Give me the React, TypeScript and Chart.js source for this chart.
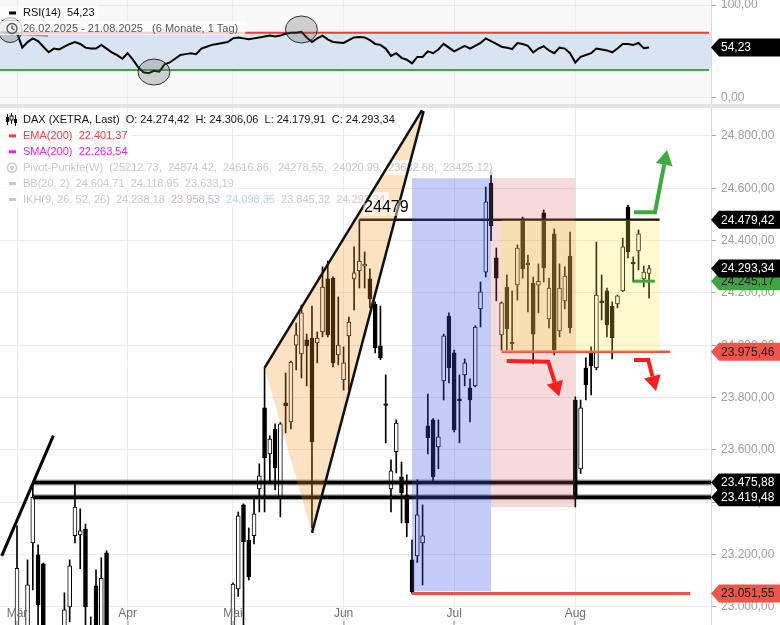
import React, { useEffect, useRef } from 'react';
import { Chart, registerables } from 'chart.js';

Chart.register(...registerables);

const FONT = '"Liberation Sans", Arial, Helvetica, sans-serif';
Chart.defaults.font.family = FONT;

// ---------- axes ----------
const X_MIN = -0.23;
const X_MAX = 134.76;
const PRICE_MIN = 22931;
const PRICE_MAX = 24907;
const PRICE_TICKS = [23000, 23200, 23400, 23600, 23800, 24000, 24200, 24400, 24600, 24800];
const RSI_MIN = -6.8;
const RSI_MAX = 105.4;
const RSI_TICKS = [0, 100];
const RSI_UPPER = 70;
const RSI_LOWER = 30;
const MONTH_TICKS = [3, 24, 44, 65, 86, 109];
const MONTH_LABELS = ['Mär', 'Apr', 'Mai', 'Jun', 'Jul', 'Aug'];
const DATE_START = '26.02.2025';
const DATE_END = '21.08.2025';

// ---------- daily candles (trading day index 0 = 26.02.2025) ----------
const OPEN = [
  22500, 22700, 22480, 22700, 22900, 22500, 23245, 23199, 23165, 22600,
  22500, 22700, 22700, 23000, 23272, 23275, 23298, 22910, 23081, 22880,
  23207, 22700, 22600, 22200, 22250, 22500, 21800, 21500, 19500, 20600,
  19900, 20800, 20300, 20800, 21000, 21100, 21300, 21250, 21700, 21900,
  22100, 22300, 22300, 22400, 22600, 23069, 23390, 23256, 23272, 23451,
  23761, 23585, 23680, 23421, 23780, 23707, 24001, 23967, 24021, 24028,
  24009, 24051, 24254, 24257, 23963, 23868, 24036, 24254, 24284, 24302,
  24254, 24158, 23998, 23776, 23451, 23593, 23497, 23428, 23180, 23195,
  23245, 23692, 23715, 23612, 23864, 24112, 23971, 23795, 23887, 23837,
  23845, 24139, 24280, 24620, 24334, 24040, 24223, 24012, 24231, 24483,
  24314, 24238, 24230, 24506, 24101, 24426, 24055, 24170, 24341, 23791,
  23528, 23914, 23971, 23914, 24170, 24208, 24150, 24158, 24208, 24529,
  24318, 24361, 24254, 24274.42,
];
const HIGH = [
  22800, 22790, 22600, 23310, 22920, 23180, 23476, 23237, 23168, 22800,
  22850, 22880, 23054, 23180, 23474, 23375, 23317, 22962, 23142, 23188,
  23215, 22800, 22650, 22300, 22600, 22600, 22000, 21700, 20500, 20900,
  20300, 21000, 20600, 21100, 21300, 21350, 21400, 21400, 22100, 22100,
  22300, 22400, 22450, 22550, 23092, 23363, 23394, 23302, 23417, 23547,
  23914, 23654, 23700, 23705, 23894, 23940, 24085, 24154, 24043, 24150,
  24051, 24300, 24322, 24262, 24185, 23994, 24108, 24376, 24479.42, 24357,
  24292, 24166, 24150, 23887, 23562, 23715, 23554, 23505, 23256, 23486,
  23390, 23814, 23720, 23715, 24043, 24124, 23982, 23887, 23948, 23872,
  24075, 24242, 24605, 24665, 24372, 24166, 24269, 24208, 24384, 24490,
  24345, 24261, 24311, 24517, 24257, 24445, 24311, 24300, 24433, 23803,
  23791, 23952, 23994, 24395, 24269, 24219, 24166, 24192, 24410, 24536,
  24338, 24441, 24303, 24306.06,
];
const LOW = [
  22450, 22450, 22300, 22650, 22230, 22400, 23065, 22800, 22500, 22200,
  22450, 22500, 22650, 22943, 23245, 23146, 22900, 22700, 22820, 22860,
  22800, 22550, 22400, 21900, 22200, 22300, 21500, 20500, 18490, 20200,
  19300, 20400, 20100, 20750, 20900, 20900, 21100, 21000, 21700, 21800,
  22000, 22100, 22250, 22100, 22550, 23040, 22900, 23103, 23241, 23363,
  23363, 23474, 23447, 23344, 23665, 23680, 23906, 23875, 23845, 23302,
  23933, 24032, 24032, 23917, 23925, 23829, 23829, 24135, 24219, 24219,
  24143, 23971, 23945, 23627, 23363, 23512, 23321, 23268, 23051.55, 23170,
  23084, 23585, 23478, 23528, 23791, 23856, 23669, 23627, 23845, 23707,
  23841, 24070, 24261, 24400, 24170, 23982, 23982, 23982, 24173, 24257,
  24128, 23929, 24124, 24242, 24066, 23963, 24032, 24139, 24047, 23382,
  23510, 23791, 23810, 23906, 24097, 24032, 23948, 24143, 24205, 24334,
  24242, 24288, 24223, 24179.91,
];
const CLOSE = [
  22794, 22551, 22551, 23148, 22327, 23085, 23419, 23008, 22620, 22328,
  22676, 22567, 22989, 23157, 23382, 23291, 23000, 22892, 22852, 23109,
  22839, 22679, 22461, 22163, 22539, 22390, 21717, 20642, 20202, 20280,
  19670, 20562, 20374, 20955, 21254, 21311, 21206, 21294, 21962, 22064,
  22242, 22272, 22426, 22497, 23087, 23348, 23249, 23115, 23356, 23501,
  23570, 23642, 23531, 23700, 23768, 23936, 24040, 24124, 23998, 23631,
  24028, 24223, 24040, 23933, 24001, 23933, 24089, 24277, 24322, 24310,
  24177, 23990, 23952, 23770, 23520, 23703, 23436, 23321, 23058, 23352,
  23272, 23646, 23497, 23650, 24036, 23914, 23677, 23788, 23933, 23791,
  24070, 24204, 24548, 24456, 24257, 24162, 24063, 24006, 24372, 24292,
  24308, 24043, 24245, 24296, 24219, 23982, 24219, 24265, 24066, 23421,
  23761, 23849, 23921, 24192, 24162, 24078, 24028, 24189, 24376, 24357,
  24312, 24426, 24280, 24293.34,
];

// ---------- RSI(14) ----------
const RSI = [
  71, 70, 70, 70, 54, 60, 64, 61, 55, 49,
  53, 52, 55, 58, 60, 58, 54, 53, 53, 57,
  53, 49, 46, 42, 48, 41, 33, 27.5, 26.5, 29,
  28, 36, 38, 42, 46, 47, 48, 47, 53, 55,
  57, 58, 59, 60, 64, 65, 64, 63, 64, 65,
  66, 67, 66, 67, 69, 70, 70, 71, 65, 60,
  64, 67, 63, 60, 59.5, 59, 62, 65, 65.5, 65,
  62, 58, 57, 53, 45, 48, 43, 41, 37, 44,
  44, 50, 48, 52, 58, 54, 50, 53, 56, 53,
  56, 59, 64, 61, 58, 55, 54, 52.5, 59, 58,
  56, 49, 53, 55.5, 51, 48, 54, 53, 48, 38,
  44, 46, 48, 53, 52, 51, 49, 53, 58, 58,
  57, 59, 53.5, 54.23,
];
const RSI_CIRCLES = [
  { x: 1.7, y: 73, rx: 12, ry: 12.5 },
  { x: 29.0, y: 27.7, rx: 16, ry: 13 },
  { x: 57.0, y: 73.6, rx: 16, ry: 13.5 },
];

// ---------- indicator legend values ----------
const EMA_200 = 22401.37;
const SMA_200 = 22263.54;
const PIVOTS = [25212.73, 24874.42, 24616.86, 24278.55, 24020.99, 23682.68, 23425.12];
const BB = [24604.71, 24118.95, 23633.19];
const IKH = [24238.18, 23958.53, 24098.35, 23845.32, 24293.34];

// ---------- drawings (index, price) ----------
const RESIST_24479 = 24479.42;
const LEVEL_LINES = [
  { from: 68, to: 125, value: RESIST_24479, color: '#111111', width: 2.5, halo: false },
  { from: 95, to: 127, value: 23975.46, color: 'rgb(240,80,70)', width: 2.5, halo: false },
  { from: 6, to: 136, value: 23475.88, color: '#000000', width: 3.5, halo: true },
  { from: 6, to: 136, value: 23419.48, color: '#000000', width: 3.5, halo: true },
  { from: 78, to: 130.8, value: 23051.55, color: 'rgb(240,80,70)', width: 3, halo: false },
];
const GREEN_LEVEL = { from: 120, to: 124.1, value: 24245.17 };
const ZONES = [
  { x0: 78, x1: 93, y0: 23060, y1: 24639, color: 'rgba(60,90,240,0.3)' },
  { x0: 93, x1: 109, y0: 23382, y1: 24639, color: 'rgba(220,90,90,0.22)' },
  { x0: 95, x1: 125, y0: 23975.46, y1: 24479.42, color: 'rgba(250,230,60,0.25)' },
];
const WEDGE_LEFT = [50, 23914];
const WEDGE_BOTTOM = [59, 23283];
const WEDGE_TOP_UPPER = [79.9, 24899];
const WEDGE_TOP_LOWER = [80.2, 24895];
const TREND_LINE = [[0.1, 23195], [9.9, 23655]];
const RED_ARROW_1 = [[95.97, 23940], [103.87, 23937.6], [105.96, 23804]];
const RED_ARROW_2 = [[120.14, 23944], [122.86, 23944], [124.32, 23825.6]];
const GREEN_ARROW = [[120.14, 24508.5], [124.13, 24508.5], [126.41, 24746.5]];
const LABEL_24479_POS = [68.9, 24525];

const BADGES = [
  { v: 24479.42, bg: '#000000', fg: '#ffffff' },
  { v: 24245.17, bg: 'rgb(62,165,62)', fg: '#1a1a1a' },
  { v: 24293.34, bg: '#000000', fg: '#ffffff' },
  { v: 23975.46, bg: 'rgb(240,85,75)', fg: '#1a1a1a' },
  { v: 23475.88, bg: '#000000', fg: '#ffffff' },
  { v: 23419.48, bg: '#000000', fg: '#ffffff' },
  { v: 23051.55, bg: 'rgb(240,85,75)', fg: '#1a1a1a' },
];

function de(v: number, d = 2): string {
  const neg = v < 0;
  const s = Math.abs(v).toFixed(d);
  const [ip, fp] = s.split('.');
  const ig = ip.replace(/\B(?=(\d{3})+(?!\d))/g, '.');
  return (neg ? '-' : '') + (fp ? ig + ',' + fp : ig);
}

function drawBadge(ctx: any, xl: number, y: number, w: number, text: string, bg: string, fg: string) {
  ctx.save();
  ctx.fillStyle = bg;
  ctx.beginPath();
  ctx.moveTo(xl, y);
  ctx.lineTo(xl + 8, y - 9);
  ctx.lineTo(xl + w, y - 9);
  ctx.lineTo(xl + w, y + 9);
  ctx.lineTo(xl + 8, y + 9);
  ctx.closePath();
  ctx.fill();
  ctx.fillStyle = fg;
  ctx.font = `12px ${FONT}`;
  ctx.textAlign = 'left';
  ctx.textBaseline = 'middle';
  ctx.fillText(text, xl + 10, y + 0.5);
  ctx.restore();
}

function drawArrow(ctx: any, pts: { x: number; y: number }[], color: string) {
  const n = pts.length;
  const tip = pts[n - 1];
  const prev = pts[n - 2];
  const ang = Math.atan2(tip.y - prev.y, tip.x - prev.x);
  const hl = 15;
  const hw = 8.5;
  const bx = tip.x - hl * Math.cos(ang);
  const by = tip.y - hl * Math.sin(ang);
  ctx.save();
  ctx.strokeStyle = color;
  ctx.fillStyle = color;
  ctx.lineWidth = 4;
  ctx.lineJoin = 'miter';
  ctx.beginPath();
  ctx.moveTo(pts[0].x, pts[0].y);
  for (let i = 1; i < n - 1; i++) ctx.lineTo(pts[i].x, pts[i].y);
  ctx.lineTo(bx, by);
  ctx.stroke();
  ctx.beginPath();
  ctx.moveTo(tip.x, tip.y);
  ctx.lineTo(bx + hw * Math.sin(ang), by - hw * Math.cos(ang));
  ctx.lineTo(bx - hw * Math.sin(ang), by + hw * Math.cos(ang));
  ctx.closePath();
  ctx.fill();
  ctx.restore();
}

function legendRow(ctx: any, y: number, parts: { t: string; c: string }[]) {
  ctx.font = `11px ${FONT}`;
  let w = 0;
  for (const p of parts) w += ctx.measureText(p.t).width;
  ctx.fillStyle = 'rgba(255,255,255,0.75)';
  ctx.fillRect(0, y - 7.5, 23 + w + 4, 15);
  ctx.textAlign = 'left';
  ctx.textBaseline = 'middle';
  let cx = 23;
  for (const p of parts) {
    ctx.fillStyle = p.c;
    ctx.fillText(p.t, cx, y);
    cx += ctx.measureText(p.t).width;
  }
}

const mainPlugin = {
  id: 'mainOverlay',
  afterDatasetsDraw(chart: any) {
    const { ctx, chartArea: ca } = chart;
    const xs = chart.scales.x;
    const ys = chart.scales.y;
    const X = (v: number) => xs.getPixelForValue(v);
    const Y = (v: number) => ys.getPixelForValue(v);
    ctx.save();
    ctx.beginPath();
    ctx.rect(ca.left, ca.top, ca.right - ca.left, ca.bottom - ca.top);
    ctx.clip();

    for (const l of LEVEL_LINES) {
      const y = Y(l.value);
      if (l.halo) {
        ctx.strokeStyle = 'rgba(0,0,0,0.35)';
        ctx.lineWidth = 6;
        ctx.beginPath();
        ctx.moveTo(X(l.from), y);
        ctx.lineTo(X(l.to), y);
        ctx.stroke();
      }
      ctx.strokeStyle = l.color;
      ctx.lineWidth = l.width;
      ctx.beginPath();
      ctx.moveTo(X(l.from), y);
      ctx.lineTo(X(l.to), y);
      ctx.stroke();
    }
    ctx.strokeStyle = '#000';
    ctx.lineWidth = 3;
    ctx.beginPath();
    ctx.moveTo(X(TREND_LINE[0][0]), Y(TREND_LINE[0][1]));
    ctx.lineTo(X(TREND_LINE[1][0]), Y(TREND_LINE[1][1]));
    ctx.stroke();

    for (const z of ZONES) {
      ctx.fillStyle = z.color;
      const x0 = X(z.x0), x1 = X(z.x1), y0 = Y(z.y1), y1 = Y(z.y0);
      ctx.fillRect(x0, y0, x1 - x0, y1 - y0);
    }
    ctx.fillStyle = 'rgba(245,150,40,0.28)';
    ctx.beginPath();
    ctx.moveTo(X(WEDGE_LEFT[0]), Y(WEDGE_LEFT[1]));
    ctx.lineTo(X(WEDGE_TOP_UPPER[0]), Y(WEDGE_TOP_UPPER[1]));
    ctx.lineTo(X(WEDGE_TOP_LOWER[0]), Y(WEDGE_TOP_LOWER[1]));
    ctx.lineTo(X(WEDGE_BOTTOM[0]), Y(WEDGE_BOTTOM[1]));
    ctx.closePath();
    ctx.fill();

    const n = CLOSE.length - 1;
    const rowY = (k: number) => 12 + 15.9 * k;
    legendRow(ctx, rowY(0), [
      { t: `DAX (XETRA, Last)  O: ${de(OPEN[n])}  H: ${de(HIGH[n])}  L: ${de(LOW[n])}  C: ${de(CLOSE[n])}`, c: '#111' },
    ]);
    legendRow(ctx, rowY(1), [{ t: `EMA(200)  ${de(EMA_200)}`, c: 'rgb(240,60,60)' }]);
    legendRow(ctx, rowY(2), [{ t: `SMA(200)  ${de(SMA_200)}`, c: 'rgb(235,30,235)' }]);
    legendRow(ctx, rowY(3), [
      { t: `Pivot-Punkte(W)  (${PIVOTS.map((v) => v.toFixed(2)).join(',  ')})`, c: '#c8c8c8' },
    ]);
    legendRow(ctx, rowY(4), [{ t: `BB(20, 2)  ${BB.map((v) => de(v)).join('  ')}`, c: '#c8c8c8' }]);
    const ikhColors = ['#c8c8c8', '#c5b0e6', '#b3d9ea', '#c8c8c8', '#eac3d5'];
    legendRow(ctx, rowY(5), [
      { t: 'IKH(9, 26, 52, 26)  ', c: '#c8c8c8' },
      ...IKH.map((v, i) => ({ t: de(v) + (i < IKH.length - 1 ? '  ' : ''), c: ikhColors[i] })),
    ]);
    ctx.strokeStyle = '#111';
    ctx.fillStyle = '#111';
    ctx.lineWidth = 1;
    const ic = [
      [7.5, 6, 17, 9, 14, true],
      [11.5, 5, 16, 8, 12, false],
      [15.5, 7, 18, 11, 15, true],
    ];
    for (const [cx, t, b, bt, bb, filled] of ic as any) {
      ctx.beginPath();
      ctx.moveTo(cx, t);
      ctx.lineTo(cx, b);
      ctx.stroke();
      if (filled) ctx.fillRect(cx - 1.5, bt, 3, bb - bt);
      else {
        ctx.fillStyle = '#fff';
        ctx.fillRect(cx - 1.5, bt, 3, bb - bt);
        ctx.strokeRect(cx - 1.5, bt, 3, bb - bt);
        ctx.fillStyle = '#111';
      }
    }
    ctx.fillStyle = 'rgb(240,60,60)';
    ctx.fillRect(9, rowY(1) - 1.5, 7, 3);
    ctx.fillStyle = 'rgb(235,30,235)';
    ctx.fillRect(9, rowY(2) - 1.5, 7, 3);
    ctx.strokeStyle = '#c8c8c8';
    ctx.lineWidth = 1.5;
    ctx.beginPath();
    ctx.arc(12, rowY(3), 4.5, 0, Math.PI * 2);
    ctx.stroke();
    ctx.fillStyle = '#c8c8c8';
    ctx.beginPath();
    ctx.arc(12, rowY(3), 2, 0, Math.PI * 2);
    ctx.fill();
    ctx.fillRect(9, rowY(4) - 1.5, 7, 3);
    ctx.fillRect(9, rowY(5) - 1.5, 7, 3);

    ctx.strokeStyle = '#111';
    ctx.lineWidth = 2.5;
    ctx.beginPath();
    ctx.moveTo(X(WEDGE_LEFT[0]), Y(WEDGE_LEFT[1]));
    ctx.lineTo(X(WEDGE_TOP_UPPER[0]), Y(WEDGE_TOP_UPPER[1]));
    ctx.stroke();
    ctx.beginPath();
    ctx.moveTo(X(WEDGE_BOTTOM[0]), Y(WEDGE_BOTTOM[1]));
    ctx.lineTo(X(WEDGE_TOP_LOWER[0]), Y(WEDGE_TOP_LOWER[1]));
    ctx.stroke();

    ctx.strokeStyle = 'rgb(55,170,55)';
    ctx.lineWidth = 3;
    ctx.beginPath();
    ctx.moveTo(X(GREEN_LEVEL.from), Y(GREEN_LEVEL.value));
    ctx.lineTo(X(GREEN_LEVEL.to), Y(GREEN_LEVEL.value));
    ctx.stroke();

    const toPx = (a: number[][]) => a.map(([i, v]) => ({ x: X(i), y: Y(v) }));
    drawArrow(ctx, toPx(RED_ARROW_1), 'rgb(250,30,30)');
    drawArrow(ctx, toPx(RED_ARROW_2), 'rgb(250,30,30)');
    drawArrow(ctx, toPx(GREEN_ARROW), 'rgb(60,170,60)');

    ctx.font = `16px ${FONT}`;
    ctx.textAlign = 'left';
    ctx.textBaseline = 'middle';
    const lbl = String(Math.round(RESIST_24479));
    const lx = X(LABEL_24479_POS[0]);
    const ly = Y(LABEL_24479_POS[1]);
    const lw = ctx.measureText(lbl).width;
    ctx.fillStyle = 'rgba(255,255,255,0.45)';
    ctx.fillRect(lx - 1, ly - 8, lw + 2, 16);
    ctx.fillStyle = '#000';
    ctx.fillText(lbl, lx, ly);

    ctx.restore();
  },
  afterDraw(chart: any) {
    const { ctx, chartArea: ca } = chart;
    const xs = chart.scales.x;
    const ys = chart.scales.y;
    ctx.save();
    ctx.font = `12px ${FONT}`;
    ctx.textAlign = 'center';
    ctx.textBaseline = 'middle';
    MONTH_TICKS.forEach((t, i) => {
      const x = xs.getPixelForValue(t);
      ctx.fillStyle = '#707070';
      ctx.fillText(MONTH_LABELS[i], x, ca.bottom - 11);
      ctx.fillStyle = '#8a8a8a';
      ctx.fillRect(Math.round(x) - 0.5, ca.bottom - 4, 1, 4);
    });
    for (const b of BADGES) {
      drawBadge(ctx, ca.right, ys.getPixelForValue(b.v), chart.width - ca.right, de(b.v), b.bg, b.fg);
    }
    ctx.restore();
  },
};

const rsiPlugin = {
  id: 'rsiOverlay',
  beforeDraw(chart: any) {
    const { ctx, chartArea: ca } = chart;
    ctx.save();
    ctx.fillStyle = '#f8f8f8';
    ctx.fillRect(ca.left, ca.top, ca.right - ca.left, ca.bottom - ca.top);
    ctx.restore();
  },
  beforeDatasetsDraw(chart: any) {
    const { ctx, chartArea: ca } = chart;
    const ys = chart.scales.y;
    const yU = ys.getPixelForValue(RSI_UPPER);
    const yL = ys.getPixelForValue(RSI_LOWER);
    ctx.save();
    ctx.fillStyle = 'rgb(216,228,242)';
    ctx.fillRect(ca.left, yU, ca.right - ca.left, yL - yU);
    ctx.lineWidth = 2;
    ctx.strokeStyle = 'rgb(238,62,52)';
    ctx.beginPath();
    ctx.moveTo(ca.left, yU);
    ctx.lineTo(ca.right - 2, yU);
    ctx.stroke();
    ctx.strokeStyle = 'rgb(66,165,66)';
    ctx.beginPath();
    ctx.moveTo(ca.left, yL);
    ctx.lineTo(ca.right - 2, yL);
    ctx.stroke();
    ctx.restore();
  },
  afterDatasetsDraw(chart: any) {
    const { ctx, chartArea: ca } = chart;
    const xs = chart.scales.x;
    const ys = chart.scales.y;
    ctx.save();
    ctx.beginPath();
    ctx.rect(ca.left, ca.top, ca.right - ca.left, ca.bottom - ca.top);
    ctx.clip();
    ctx.strokeStyle = 'rgba(110,110,110,0.6)';
    ctx.lineWidth = 2;
    ctx.beginPath();
    ctx.moveTo(xs.getPixelForValue(3.57), ys.getPixelForValue(68.7));
    ctx.lineTo(xs.getPixelForValue(8.9), ys.getPixelForValue(66.5));
    ctx.stroke();
    for (const c of RSI_CIRCLES) {
      ctx.beginPath();
      ctx.ellipse(xs.getPixelForValue(c.x), ys.getPixelForValue(c.y), c.rx, c.ry, 0, 0, Math.PI * 2);
      ctx.fillStyle = 'rgba(110,110,110,0.3)';
      ctx.fill();
      ctx.strokeStyle = 'rgba(30,30,30,0.9)';
      ctx.lineWidth = 1;
      ctx.stroke();
    }
    ctx.restore();

    ctx.save();
    ctx.font = `11px ${FONT}`;
    ctx.textAlign = 'left';
    ctx.textBaseline = 'middle';
    const t1 = `RSI(14)  ${de(RSI[RSI.length - 1])}`;
    ctx.fillStyle = 'rgba(255,255,255,0.6)';
    ctx.fillRect(0, 5, 23 + ctx.measureText(t1).width + 4, 15);
    ctx.fillStyle = '#000';
    ctx.fillRect(9, 11.5, 7, 3);
    ctx.fillStyle = '#111';
    ctx.fillText(t1, 23, 12.5);
    const t2 = `${DATE_START} - ${DATE_END}   (6 Monate, 1 Tag)`;
    ctx.fillStyle = 'rgba(255,255,255,0.72)';
    ctx.fillRect(0, 21, 23 + ctx.measureText(t2).width + 7, 14);
    ctx.fillStyle = '#555';
    ctx.fillText(t2, 23, 28.5);
    ctx.strokeStyle = '#555';
    ctx.lineWidth = 1.3;
    ctx.beginPath();
    ctx.arc(12, 28.5, 5, 0, Math.PI * 2);
    ctx.stroke();
    ctx.beginPath();
    ctx.moveTo(12, 25.5);
    ctx.lineTo(12, 28.5);
    ctx.lineTo(14.5, 30);
    ctx.stroke();
    ctx.restore();
  },
  afterDraw(chart: any) {
    const { ctx, chartArea: ca } = chart;
    const ys = chart.scales.y;
    const v = RSI[RSI.length - 1];
    drawBadge(ctx, ca.right, ys.getPixelForValue(v), chart.width - ca.right, de(v), '#000', '#fff');
  },
};

function xScale() {
  return {
    type: 'linear',
    min: X_MIN,
    max: X_MAX,
    offset: false,
    grid: { offset: false, color: '#ebebeb', drawTicks: false },
    border: { display: false },
    ticks: { display: false },
    afterBuildTicks: (s: any) => {
      s.ticks = MONTH_TICKS.map((v) => ({ value: v }));
    },
    afterFit: (s: any) => {
      s.height = 0;
      s.paddingLeft = 0;
      s.paddingRight = 0;
    },
  };
}

function yScale(min: number, max: number, ticks: number[]) {
  return {
    type: 'linear',
    position: 'right',
    min,
    max,
    grid: { color: '#ebebeb', tickColor: '#a8a8a8', tickLength: 5 },
    border: { display: true, color: '#d8d8d8' },
    ticks: {
      color: '#9c9c9c',
      font: { size: 12, family: FONT },
      padding: 5,
      autoSkip: false,
      callback: (v: any) => de(Number(v)),
    },
    afterBuildTicks: (s: any) => {
      s.ticks = ticks.map((v) => ({ value: v }));
    },
    afterFit: (s: any) => {
      s.width = 69;
      s.paddingTop = 0;
      s.paddingBottom = 0;
    },
  };
}

export default function App() {
  const rsiRef = useRef<HTMLCanvasElement>(null);
  const mainRef = useRef<HTMLCanvasElement>(null);

  useEffect(() => {
    const idx = OPEN.map((_, i) => i);
    const bodies = idx.map((i) => ({ x: i, y: [OPEN[i], CLOSE[i]] }));
    const wicks = idx.map((i) => ({ x: i, y: [LOW[i], HIGH[i]] }));
    const bodyColors = idx.map((i) => (CLOSE[i] >= OPEN[i] ? '#ffffff' : '#000000'));

    const rsiChart = new Chart(rsiRef.current as any, {
      type: 'line',
      data: {
        datasets: [
          {
            label: 'RSI(14)',
            data: RSI.map((v, i) => ({ x: i, y: v })),
            borderColor: '#000',
            borderWidth: 2,
            pointRadius: 0,
            tension: 0,
            fill: false,
          } as any,
        ],
      },
      options: {
        animation: false,
        responsive: false,
        devicePixelRatio: 1,
        layout: { padding: 0, autoPadding: false } as any,
        plugins: { legend: { display: false }, tooltip: { enabled: false } },
        scales: {
          x: xScale() as any,
          y: yScale(RSI_MIN, RSI_MAX, RSI_TICKS) as any,
        },
      },
      plugins: [rsiPlugin as any],
    });

    const mainChart = new Chart(mainRef.current as any, {
      type: 'bar',
      data: {
        datasets: [
          {
            label: 'body',
            data: bodies as any,
            backgroundColor: bodyColors,
            borderColor: '#000',
            borderWidth: 1,
            borderSkipped: false,
            barThickness: 4,
            grouped: false,
            order: 1,
          } as any,
          {
            label: 'wick',
            data: wicks as any,
            backgroundColor: '#000',
            borderWidth: 0,
            barThickness: 1,
            grouped: false,
            order: 2,
          } as any,
        ],
      },
      options: {
        animation: false,
        responsive: false,
        devicePixelRatio: 1,
        layout: { padding: 0, autoPadding: false } as any,
        plugins: { legend: { display: false }, tooltip: { enabled: false } },
        scales: {
          x: xScale() as any,
          y: yScale(PRICE_MIN, PRICE_MAX, PRICE_TICKS) as any,
        },
      },
      plugins: [mainPlugin as any],
    });

    return () => {
      rsiChart.destroy();
      mainChart.destroy();
    };
  }, []);

  return (
    <div
      style={{
        position: 'fixed',
        left: 0,
        top: 0,
        width: 780,
        height: 625,
        background: '#e4e4e4',
        overflow: 'hidden',
      }}
    >
      <canvas
        ref={rsiRef}
        width={780}
        height={104}
        style={{ position: 'absolute', left: 0, top: 0, width: 780, height: 104, background: '#ffffff' }}
      />
      <canvas
        ref={mainRef}
        width={780}
        height={517}
        style={{ position: 'absolute', left: 0, top: 108, width: 780, height: 517, background: '#ffffff' }}
      />
    </div>
  );
}
